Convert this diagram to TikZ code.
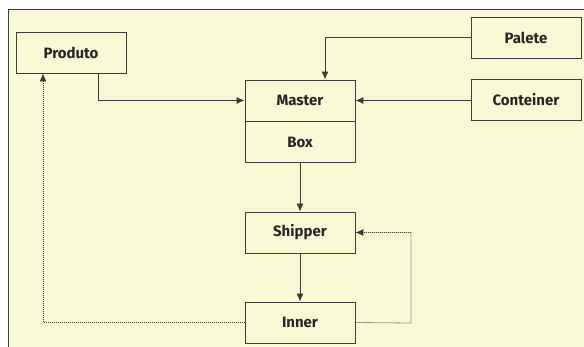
\documentclass[tikz,border=0pt]{standalone}
\usepackage{fontspec}
\setmainfont{Fira Sans}
\usetikzlibrary{arrows.meta}
\definecolor{bgyellow}{RGB}{250,249,214}
\definecolor{linegray}{RGB}{60,60,60}
\tikzset{
  box/.style={draw=linegray, line width=0.9pt, fill=bgyellow, minimum width=110pt, minimum height=41pt, inner sep=0pt, font=\fontsize{15}{17}\selectfont\bfseries, text=black!85},
  solidarrow/.style={draw=linegray, line width=0.8pt, -{Latex[length=8pt,width=7pt]}},
  dotarrow/.style={draw=linegray, line width=0.8pt, dash pattern=on 1pt off 1pt, -{Latex[length=8pt,width=7pt]}}
}
\begin{document}
\begin{tikzpicture}[x=1pt,y=-1pt]
\useasboundingbox (0,0) rectangle (584,347);
\fill[white] (0,0) rectangle (584,347);
\draw[draw=linegray, line width=1pt, fill=bgyellow] (8,10) rectangle (590,352);
\node[box] (produto) at (71,52.5) {Produto};
\node[box] (master) at (300,100.5) {Master};
\node[box] (boxn) at (300,142) {Box};
\node[box] (palete) at (526,37.5) {Palete};
\node[box] (conteiner) at (526,99.5) {Conteiner};
\node[box] (shipper) at (300,232.5) {Shipper};
\node[box] (inner) at (300,322.5) {Inner};
\coordinate (pA) at (98,101);
\coordinate (plA) at (325,37.5);
\draw[solidarrow] (produto.south -| pA) |- (master.west);
\draw[solidarrow] (palete.west) -| (master.north -| plA);
\draw[solidarrow] (conteiner.west |- master.east) -- (master.east);
\draw[solidarrow] (boxn.south) -- (shipper.north);
\draw[solidarrow] (shipper.south) -- (inner.north);
\coordinate (dl) at (43,323);
\coordinate (dr) at (411,323);
\draw[dotarrow] (inner.west) -| (produto.south -| dl);
\draw[dotarrow] (inner.east) -- (dr) |- (shipper.east);
\end{tikzpicture}
\end{document}
